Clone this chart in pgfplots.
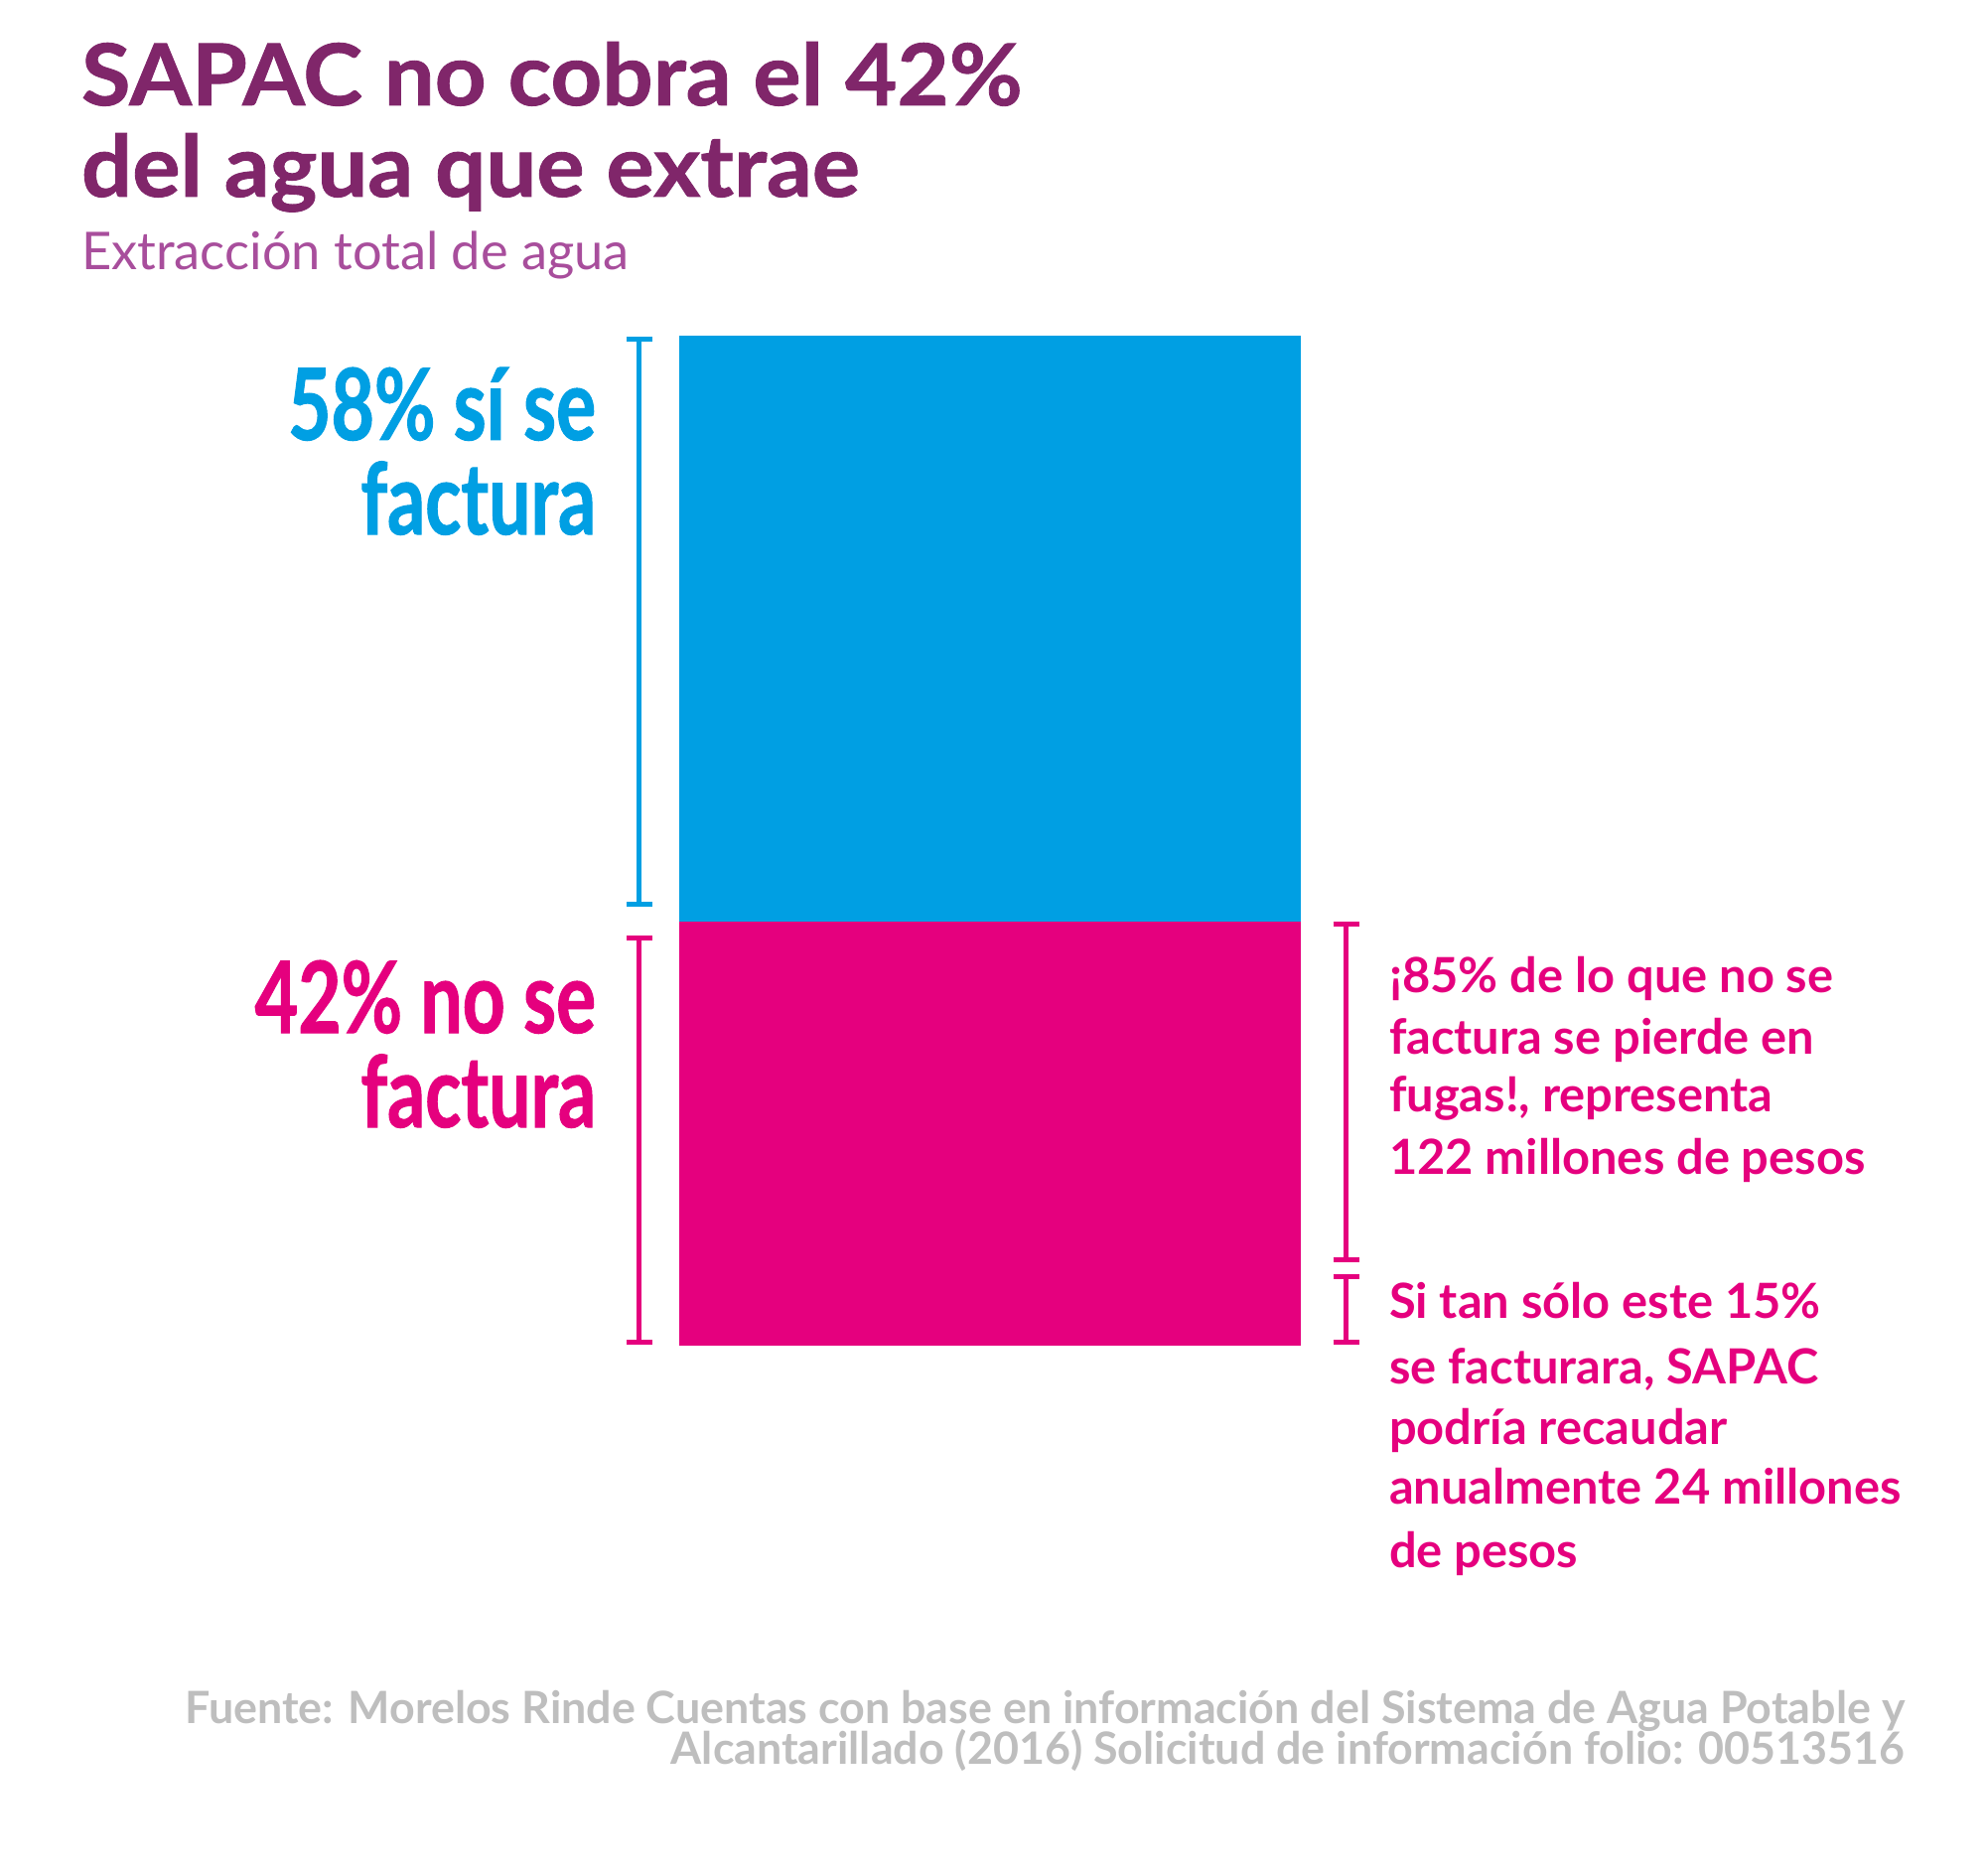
\documentclass[border=0pt]{standalone}
\usepackage{pgfplots}
\pgfplotsset{compat=1.18}
\usepackage{fontspec}
\setmainfont{Lato}
\newfontfamily\condfont[FakeStretch=0.75, FakeBold=1]{Lato}
\newfontfamily\titlefont[FakeStretch=1.05, FakeBold=1]{Lato}
\definecolor{titlec}{HTML}{80266A}
\definecolor{subc}{HTML}{A84E9C}
\definecolor{bluec}{HTML}{009FE3}
\definecolor{pinkc}{HTML}{E5007E}
\definecolor{grayc}{HTML}{BEBEBE}
\begin{document}
\begin{tikzpicture}
\fill[white] (0,0) rectangle (500pt,472pt);
\begin{axis}[at={(171pt,133.25pt)}, anchor=south west, scale only axis,
  width=156.5pt, height=254.25pt, xmin=0, xmax=1, ymin=0, ymax=100,
  hide axis, clip=false, ybar stacked, bar width=1]
\addplot[fill=pinkc, draw=none] coordinates {(0.5,42)};
\addplot[fill=bluec, draw=none] coordinates {(0.5,58)};
% brackets
\draw[bluec, line width=1.25pt] (axis cs:-0.064,43.7) -- (axis cs:-0.064,99.7);
\draw[bluec, line width=1.25pt] (axis cs:-0.085,43.7) -- (axis cs:-0.043,43.7);
\draw[bluec, line width=1.25pt] (axis cs:-0.085,99.7) -- (axis cs:-0.043,99.7);
\draw[pinkc, line width=1.25pt] (axis cs:-0.064,0.3) -- (axis cs:-0.064,40.4);
\draw[pinkc, line width=1.25pt] (axis cs:-0.085,0.3) -- (axis cs:-0.043,0.3);
\draw[pinkc, line width=1.25pt] (axis cs:-0.085,40.4) -- (axis cs:-0.043,40.4);
\draw[pinkc, line width=1.25pt] (axis cs:1.073,8.5) -- (axis cs:1.073,41.7);
\draw[pinkc, line width=1.25pt] (axis cs:1.052,8.5) -- (axis cs:1.094,8.5);
\draw[pinkc, line width=1.25pt] (axis cs:1.052,41.7) -- (axis cs:1.094,41.7);
\draw[pinkc, line width=1.25pt] (axis cs:1.073,0.3) -- (axis cs:1.073,6.8);
\draw[pinkc, line width=1.25pt] (axis cs:1.052,0.3) -- (axis cs:1.094,0.3);
\draw[pinkc, line width=1.25pt] (axis cs:1.052,6.8) -- (axis cs:1.094,6.8);
\end{axis}
\begin{scope}[x=0.25pt,y=0.25pt]
\tikzset{every node/.style={inner sep=0pt, outer sep=0pt}}
\node[anchor=base west, text=titlec, font=\titlefont\fontsize{21.5}{24}\selectfont\bfseries] at (82,1782) {SAPAC no cobra el 42\%};
\node[anchor=base west, text=titlec, font=\titlefont\fontsize{21.5}{24}\selectfont\bfseries] at (82,1690) {del agua que extrae};
\node[anchor=base west, text=subc, font=\fontsize{13.1}{15}\selectfont] at (82,1616) {Extracción total de agua};
\node[anchor=base east, text=bluec, font=\condfont\fontsize{25}{28}\selectfont\bfseries] at (600,1445) {58\% sí se};
\node[anchor=base east, text=bluec, font=\condfont\fontsize{25}{28}\selectfont\bfseries] at (600,1350) {factura};
\node[anchor=base east, text=pinkc, font=\condfont\fontsize{25}{28}\selectfont\bfseries] at (600,848) {42\% no se};
\node[anchor=base east, text=pinkc, font=\condfont\fontsize{25}{28}\selectfont\bfseries] at (600,753) {factura};
\tikzset{rt/.style={anchor=base west, text=pinkc, font=\fontsize{12.2}{14}\selectfont\bfseries}}
\node[rt] at (1399,889) {¡85\% de lo que no se};
\node[rt] at (1399,827) {factura se pierde en};
\node[rt] at (1399,769) {fugas!, representa};
\node[rt] at (1399,706) {122 millones de pesos};
\node[rt] at (1399,561) {Si tan sólo este 15\%};
\node[rt] at (1399,495) {se facturara, SAPAC};
\node[rt] at (1399,434) {podría recaudar};
\node[rt] at (1399,374) {anualmente 24 millones};
\node[rt] at (1399,310) {de pesos};
\tikzset{src/.style={anchor=base east, text=grayc, font=\fontsize{11.2}{13}\selectfont\bfseries}}
\node[src] at (1918,153) {Fuente: Morelos Rinde Cuentas con base en información del Sistema de Agua Potable y};
\node[src] at (1918,112) {Alcantarillado (2016) Solicitud de información folio: 00513516};
\end{scope}
\end{tikzpicture}
\end{document}
